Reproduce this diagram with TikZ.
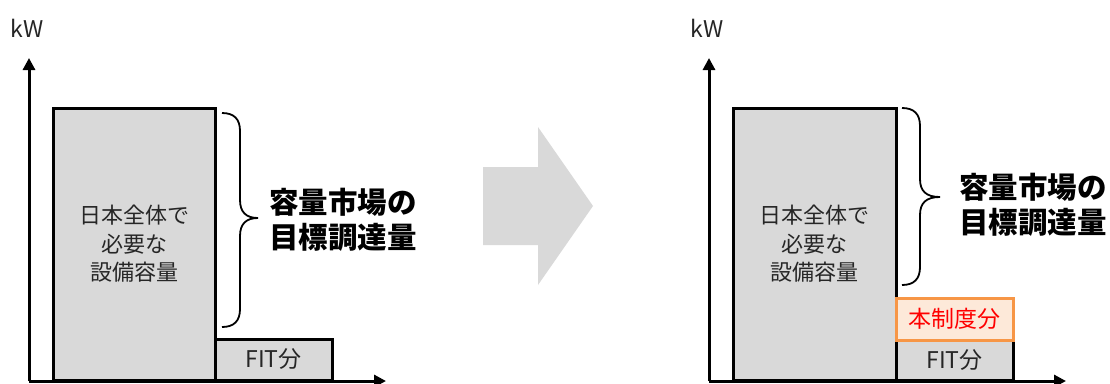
\documentclass[tikz,border=0pt]{standalone}
\usepackage{fontspec}
\setmainfont{Noto Sans CJK JP}
\usetikzlibrary{arrows.meta}
\definecolor{boxgray}{HTML}{D9D9D9}
\definecolor{txtgray}{HTML}{262626}
\definecolor{peach}{HTML}{FDE9D9}
\definecolor{orangeline}{HTML}{F79646}
\definecolor{redtxt}{HTML}{FF0000}
\tikzset{
  axis/.style={line width=3pt,-{Triangle[width=12pt,length=12pt]}},
  bar/.style={draw=black,line width=3pt,fill=boxgray,inner sep=0pt,text=txtgray,align=center},
  seidobox/.style={draw=orangeline,line width=3pt,fill=peach,inner sep=0pt,text=redtxt},
  bracestyle/.style={line width=1.8pt,black},
  biglabel/.style={anchor=west,align=left,font=\fontsize{29.5}{35}\selectfont\bfseries,text=black,inner sep=0pt},
  unitlabel/.style={font=\fontsize{23}{26}\selectfont,text=txtgray,inner sep=0pt},
  blockarrow/.style={fill=boxgray,draw=none}
}
\begin{document}
\begin{tikzpicture}[x=1pt,y=-1pt]
\useasboundingbox (0,0) rectangle (1110,383);
% ---------- left panel ----------
\node[unitlabel] (kw1) at (27,28) {kW};
\coordinate (o1) at (29,381);
\coordinate (ytop1) at (29,58);
\coordinate (xend1) at (386,381);
\node[bar,minimum width=162pt,minimum height=272pt,font=\fontsize{22}{28.5}\selectfont] (big1) at (134,244) {日本全体で\\必要な\\設備容量};
\node[bar,minimum width=117pt,minimum height=41pt,font=\fontsize{23}{24}\selectfont] (fit1) at (273.5,359.5) {FIT分};
\draw[axis] (o1) -- (ytop1);
\draw[axis] (o1) -- (xend1);
\draw[bracestyle] (222,113) .. controls (234,113) and (240,119) .. (240,131) -- (240,200)
  .. controls (240,212) and (246,218) .. (258,218)
  .. controls (246,218) and (240,224) .. (240,236) -- (240,309)
  .. controls (240,321) and (234,327) .. (222,327);
\node[biglabel] (lab1) at (269,219.5) {容量市場の\\目標調達量};
% ---------- block arrow ----------
\fill[blockarrow] (483,167) -- (538,167) -- (538,127) -- (593,206) -- (538,285) -- (538,245) -- (483,245) -- cycle;
% ---------- right panel ----------
\node[unitlabel] (kw2) at (707,28) {kW};
\coordinate (o2) at (709,381);
\coordinate (ytop2) at (709,58);
\coordinate (xend2) at (1066,381);
\node[bar,minimum width=163pt,minimum height=272pt,font=\fontsize{22}{28.5}\selectfont] (big2) at (814.5,244) {日本全体で\\必要な\\設備容量};
\node[bar,minimum width=117pt,minimum height=40pt,font=\fontsize{23}{24}\selectfont] (fit2) at (954.5,360) {FIT分};
\node[seidobox,minimum width=117pt,minimum height=42pt,font=\fontsize{23}{24}\selectfont] (seido) at (954.5,319) {本制度分};
\draw[axis] (o2) -- (ytop2);
\draw[axis] (o2) -- (xend2);
\draw[bracestyle] (902,108) .. controls (914,108) and (920,114) .. (920,126) -- (920,179)
  .. controls (920,191) and (926,197) .. (940,197)
  .. controls (926,197) and (920,203) .. (920,215) -- (920,267)
  .. controls (920,279) and (914,285) .. (902,285);
\node[biglabel] (lab2) at (959,205) {容量市場の\\目標調達量};
\end{tikzpicture}
\end{document}
